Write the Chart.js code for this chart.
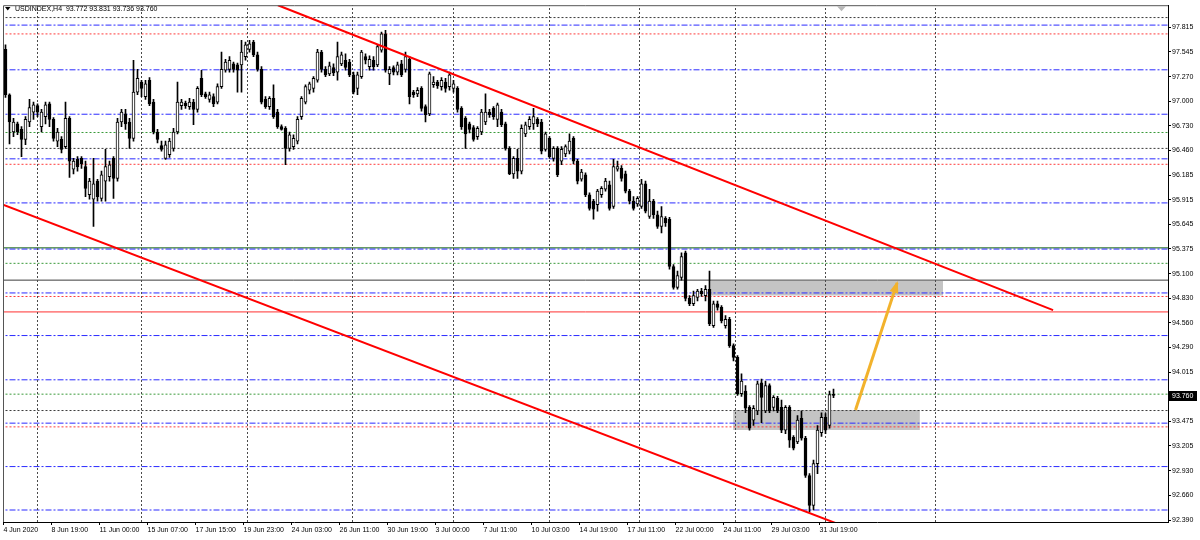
<!DOCTYPE html>
<html>
<head>
<meta charset="utf-8">
<script src="https://cdn.jsdelivr.net/npm/chart.js@4.4.1/dist/chart.umd.min.js"></script>
<style>
  html, body { margin: 0; padding: 0; background: #fff; }
  #wrap { width: 1200px; height: 540px; }
</style>
</head>
<body>
<div id="wrap"><canvas id="chart" width="1200" height="540"></canvas></div>
<script>
const symbolTitle = "USDINDEX,H4  93.772 93.831 93.736 93.760";
const lastPrice = 93.760;

// H4 candles, [open, high, low, close]
const ohlc = [
  [97.57,97.62,97.04,97.07],[97.07,97.08,96.53,96.77],[96.66,96.81,96.61,96.77],[96.75,96.77,96.63,96.66],
  [96.69,96.72,96.39,96.58],[96.58,96.83,96.52,96.80],[96.77,97.02,96.72,96.93],[96.88,96.99,96.80,96.96],
  [96.95,96.97,96.83,96.88],[96.72,96.91,96.66,96.88],[96.83,96.99,96.75,96.96],[96.97,96.99,96.72,96.80],
  [96.80,96.82,96.56,96.59],[96.56,96.70,96.50,96.66],[96.58,96.61,96.43,96.47],[96.50,96.99,96.48,96.81],
  [96.81,96.83,96.16,96.34],[96.25,96.37,96.20,96.34],[96.36,96.39,96.23,96.28],[96.37,96.39,96.26,96.31],
  [96.28,96.34,95.95,96.04],[95.97,96.15,95.92,96.12],[95.92,96.37,95.62,96.09],[96.12,96.14,95.90,95.95],
  [95.93,96.23,95.90,96.19],[96.12,96.47,95.90,96.28],[96.17,96.34,96.12,96.30],[96.37,96.39,95.93,96.15],
  [96.15,96.81,96.12,96.77],[96.77,96.91,96.72,96.88],[96.86,96.91,96.69,96.75],[96.77,96.81,96.48,96.59],
  [96.59,97.45,96.56,97.10],[97.10,97.35,97.07,97.25],[97.21,97.23,97.05,97.14],[97.05,97.23,97.02,97.19],
  [97.23,97.26,96.95,96.97],[96.99,97.02,96.64,96.66],[96.66,96.69,96.54,96.58],[96.51,96.56,96.45,96.47],
  [96.37,96.56,96.36,96.52],[96.41,96.59,96.38,96.56],[96.48,96.70,96.45,96.66],[96.66,97.21,96.64,96.99],
  [96.95,97.02,96.91,96.99],[96.98,97.00,96.92,96.95],[96.94,97.03,96.91,96.99],[96.99,97.02,96.74,96.91],
  [96.91,97.16,96.88,97.14],[97.25,97.34,97.05,97.07],[97.08,97.10,97.03,97.05],[97.02,97.10,96.99,97.07],
  [97.05,97.08,96.94,96.97],[96.99,97.19,96.97,97.16],[97.16,97.54,97.14,97.35],[97.34,97.46,97.32,97.43],
  [97.35,97.49,97.32,97.45],[97.41,97.43,97.32,97.35],[97.40,97.42,97.10,97.34],[97.40,97.67,97.10,97.54],
  [97.49,97.65,97.45,97.62],[97.57,97.67,97.54,97.63],[97.65,97.67,97.49,97.51],[97.51,97.54,97.33,97.35],
  [97.35,97.38,96.97,96.99],[97.02,97.05,96.92,96.94],[96.94,97.05,96.91,97.03],[97.03,97.18,96.81,96.83],
  [96.88,96.91,96.70,96.72],[96.72,96.74,96.68,96.69],[96.70,96.72,96.30,96.48],[96.48,96.66,96.45,96.63],
  [96.50,96.63,96.47,96.59],[96.56,96.83,96.53,96.80],
  [96.83,97.05,96.80,97.03],[96.99,97.18,96.97,97.16],[97.12,97.21,97.08,97.19],[97.14,97.27,97.10,97.25],
  [97.23,97.57,97.21,97.54],[97.54,97.56,97.32,97.35],[97.35,97.38,97.27,97.29],[97.30,97.43,97.28,97.39],
  [97.37,97.41,97.28,97.31],[97.32,97.65,97.23,97.49],[97.41,97.54,97.39,97.51],[97.45,97.52,97.34,97.37],
  [97.43,97.46,97.27,97.29],[97.29,97.32,97.08,97.10],[97.14,97.32,97.07,97.29],[97.27,97.56,97.25,97.54],
  [97.49,97.52,97.41,97.45],[97.38,97.50,97.34,97.46],[97.45,97.49,97.34,97.38],[97.40,97.62,97.38,97.60],
  [97.56,97.76,97.54,97.74],[97.74,97.78,97.32,97.34],[97.30,97.38,97.18,97.35],[97.37,97.39,97.29,97.32],
  [97.32,97.43,97.29,97.40],[97.41,97.45,97.27,97.29],[97.35,97.54,97.32,97.49],[97.46,97.49,96.97,97.05],
  [97.10,97.12,97.04,97.07],[97.08,97.15,97.05,97.12],[97.14,97.16,96.89,96.92],[96.94,96.96,96.77,96.85],
  [96.86,97.32,96.84,97.30],[97.18,97.27,97.15,97.21],[97.21,97.23,97.14,97.17],[97.16,97.26,97.12,97.23],
  [97.21,97.25,97.10,97.14],[97.16,97.32,97.12,97.29],
  [97.14,97.23,97.10,97.19],[97.14,97.16,96.88,96.91],[96.92,96.94,96.69,96.72],[96.81,96.83,96.48,96.64],
  [96.75,96.77,96.65,96.69],[96.71,96.73,96.56,96.58],[96.61,96.72,96.58,96.70],[96.66,96.91,96.63,96.88],
  [96.77,97.08,96.74,96.88],[96.88,96.91,96.82,96.85],[96.92,96.94,96.80,96.83],[96.80,96.98,96.72,96.96],
  [96.88,96.91,96.72,96.74],[96.75,96.77,96.46,96.48],[96.48,96.50,96.19,96.20],[96.20,96.39,96.15,96.37],
  [96.37,96.47,96.15,96.23],[96.23,96.74,96.20,96.70],[96.64,96.77,96.61,96.74],[96.72,96.83,96.69,96.80],
  [96.75,96.92,96.69,96.83],[96.80,96.82,96.72,96.75],[96.77,96.80,96.42,96.45],[96.47,96.66,96.45,96.64],
  [96.59,96.61,96.37,96.39],[96.37,96.50,96.34,96.48],[96.48,96.50,96.17,96.19],[96.34,96.50,96.30,96.47],
  [96.42,96.52,96.39,96.50],[96.45,96.64,96.42,96.56],[96.59,96.61,96.31,96.34],[96.34,96.36,96.09,96.12],
  [96.14,96.25,96.12,96.22],[96.19,96.21,95.95,95.97],[95.97,95.99,95.80,95.82],[95.90,95.92,95.70,95.81],
  [95.86,96.03,95.79,96.01],
  [95.97,96.06,95.94,96.04],[96.03,96.15,96.01,96.12],[96.08,96.12,95.80,95.82],[95.84,96.36,95.82,96.28],
  [96.25,96.34,96.23,96.28],[96.26,96.29,96.12,96.15],[96.20,96.23,95.99,96.01],[96.01,96.03,95.87,95.90],
  [95.90,95.95,95.80,95.82],[95.87,95.95,95.84,95.93],[95.84,96.14,95.82,96.09],[96.09,96.12,95.77,95.79],
  [95.73,96.03,95.71,95.90],[95.90,95.92,95.71,95.75],[95.75,95.79,95.60,95.62],[95.62,95.84,95.55,95.73],
  [95.71,95.73,95.62,95.66],[95.70,95.72,95.15,95.18],[95.18,95.20,94.93,94.95],[94.95,95.13,94.93,95.08],
  [95.06,95.33,95.03,95.29],[95.33,95.35,94.80,94.83],[94.83,94.86,94.75,94.77],[94.77,94.91,94.75,94.86],
  [94.84,94.93,94.80,94.91],[94.91,94.94,94.85,94.88],[94.86,94.97,94.80,94.93],[94.93,95.13,94.53,94.55],
  [94.53,94.80,94.51,94.77],[94.77,94.80,94.70,94.73],[94.73,94.75,94.56,94.58],[94.53,94.64,94.50,94.60],
  [94.60,94.62,94.29,94.31],
  [94.31,94.33,94.14,94.18],[94.18,94.20,93.76,93.78],[93.78,94.00,93.75,93.92],[93.81,93.87,93.57,93.62],
  [93.63,93.65,93.38,93.40],[93.49,93.65,93.43,93.62],[93.59,93.92,93.55,93.89],[93.90,93.94,93.46,93.74],
  [93.59,93.92,93.57,93.87],[93.87,93.89,93.57,93.59],[93.63,93.76,93.59,93.74],[93.73,93.75,93.57,93.59],
  [93.63,93.71,93.35,93.38],[93.38,93.65,93.34,93.63],[93.63,93.65,93.19,93.27],[93.30,93.32,93.16,93.18],
  [93.25,93.54,93.23,93.49],[93.51,93.59,93.27,93.29],[93.29,93.31,92.86,92.88],[92.88,92.90,92.48,92.55],
  [92.55,93.05,92.50,93.01],[93.01,93.43,92.90,93.38],[93.35,93.57,93.31,93.52],[93.52,93.56,93.34,93.38],
  [93.43,93.81,93.40,93.77],[93.772,93.831,93.736,93.760]
];

const priceTicks = [97.815, 97.545, 97.270, 97.000, 96.730, 96.460, 96.185, 95.915, 95.645, 95.375,
  95.100, 94.830, 94.560, 94.290, 94.015, 93.475, 93.205, 92.930, 92.660, 92.390];

const timeLabels = ["4 Jun 2020", "8 Jun 19:00", "11 Jun 00:00", "15 Jun 07:00", "17 Jun 15:00",
  "19 Jun 23:00", "24 Jun 03:00", "26 Jun 11:00", "30 Jun 19:00", "3 Jul 00:00", "7 Jul 11:00",
  "10 Jul 03:00", "14 Jul 19:00", "17 Jul 11:00", "22 Jul 00:00", "24 Jul 11:00", "29 Jul 03:00",
  "31 Jul 19:00"];
const barsPerLabel = 12;

// horizontal levels by kind
const blueLevels = [97.837, 97.345, 96.856, 96.365, 95.880, 95.372, 94.889, 94.420, 93.933, 93.456, 92.978, 92.500];
const redDotLevels = [97.740, 96.305, 94.850, 93.415];
const greenDotLevels = [96.655, 95.215, 93.775];
const blackDotLevels = [97.920, 96.480, 93.595];
const darkGreenLevels = [95.385];
const graySolidLevels = [95.030];
const redSolidLevels = [94.680];

// weekly separators, in bars
const separatorBars = [8, 34, 60.5, 86.75, 112, 136, 158.5, 182.5, 205, 232.5];

// channel
const upperChannel = [{ x: 68.1, y: 98.056 }, { x: 261.9, y: 94.70 }];
const lowerChannel = [{ x: -0.625, y: 95.861 }, { x: 216.1, y: 92.212 }];

const zones = [
  { from: 176.2, to: 234.4, top: 95.02, bottom: 94.86 },
  { from: 181.9, to: 228.6, top: 93.60, bottom: 93.38 }
];
const arrowPoints = [{ x: 212.5, y: 93.60 }, { x: 222.9, y: 95.00 }];

const yMin = 92.368, yMax = 98.056;
const xMin = -0.625, xMax = 290.625;

const styles = {
  blue: { color: "#2b2bff", dash: [6, 2, 2, 2] },
  redDot: { color: "#ff3c3c", dash: [2, 2] },
  greenDot: { color: "#3a9a3a", dash: [2, 2] },
  blackDot: { color: "#3a3a3a", dash: [2, 2] },
  darkGreen: { color: "#0b5e0b", dash: [] },
  gray: { color: "#3c3c3c", dash: [] },
  red: { color: "#ff3030", dash: [] }
};
const arrowColor = "#f2b22c";

Chart.defaults.font.family = '"Liberation Sans", Arial, sans-serif';
Chart.defaults.color = "#000";

function hline(price, st) {
  return {
    type: "line",
    data: [{ x: -2, y: price }, { x: 293, y: price }],
    borderColor: st.color,
    borderWidth: 1,
    borderDash: st.dash,
    pointRadius: 0,
    fill: false,
    order: 10
  };
}

const datasets = [];

zones.forEach(z => {
  datasets.push({
    type: "line",
    data: [{ x: z.from, y: z.top }, { x: z.to, y: z.top }],
    borderWidth: 0,
    borderColor: "rgba(0,0,0,0)",
    backgroundColor: "#c4c4c4",
    pointRadius: 0,
    fill: { value: z.bottom },
    order: 20
  });
});

blueLevels.forEach(p => datasets.push(hline(p, styles.blue)));
redDotLevels.forEach(p => datasets.push(hline(p, styles.redDot)));
greenDotLevels.forEach(p => datasets.push(hline(p, styles.greenDot)));
blackDotLevels.forEach(p => datasets.push(hline(p, styles.blackDot)));
darkGreenLevels.forEach(p => datasets.push(hline(p, styles.darkGreen)));
graySolidLevels.forEach(p => datasets.push(hline(p, styles.gray)));
redSolidLevels.forEach(p => datasets.push(hline(p, styles.red)));

separatorBars.forEach(b => {
  datasets.push({
    type: "line",
    data: [{ x: b, y: yMin }, { x: b, y: yMax }],
    borderColor: "#4a4a4a",
    borderWidth: 1,
    borderDash: [2, 2],
    pointRadius: 0,
    fill: false,
    order: 9
  });
});

// wicks
datasets.push({
  type: "bar",
  data: ohlc.map((r, i) => ({ x: i, y: [r[2], r[1]] })),
  backgroundColor: "#000",
  barThickness: 1,
  grouped: false,
  order: 4
});
// bodies
datasets.push({
  type: "bar",
  data: ohlc.map((r, i) => ({ x: i, y: [Math.min(r[0], r[3]), Math.max(r[0], r[3])] })),
  backgroundColor: ohlc.map(r => r[3] >= r[0] ? "#fff" : "#000"),
  borderColor: "#000",
  borderWidth: 1,
  borderSkipped: false,
  barThickness: 3,
  minBarLength: 1,
  grouped: false,
  order: 3
});

[upperChannel, lowerChannel].forEach(line => {
  datasets.push({
    type: "line",
    data: line,
    borderColor: "#ff0000",
    borderWidth: 2,
    pointRadius: 0,
    fill: false,
    order: 2
  });
});

datasets.push({
  type: "line",
  data: arrowPoints,
  borderColor: arrowColor,
  borderWidth: 3,
  pointRadius: 0,
  fill: false,
  order: 1
});

const overlay = {
  id: "overlay",
  afterDraw(chart) {
    const { ctx, chartArea: a, scales: { x, y } } = chart;
    ctx.save();

    // frame
    ctx.strokeStyle = "#555";
    ctx.lineWidth = 1;
    ctx.beginPath();
    ctx.moveTo(a.left + 0.5, a.bottom);
    ctx.lineTo(a.left + 0.5, a.top + 0.5);
    ctx.lineTo(a.right, a.top + 0.5);
    ctx.stroke();

    // arrow head
    const x0 = x.getPixelForValue(arrowPoints[0].x), y0 = y.getPixelForValue(arrowPoints[0].y);
    const x1 = x.getPixelForValue(arrowPoints[1].x), y1 = y.getPixelForValue(arrowPoints[1].y);
    const ang = Math.atan2(y1 - y0, x1 - x0);
    const len = 10, half = 4.5;
    const bx = x1 - Math.cos(ang) * len, by = y1 - Math.sin(ang) * len;
    ctx.fillStyle = arrowColor;
    ctx.beginPath();
    ctx.moveTo(x1 + Math.cos(ang) * 2, y1 + Math.sin(ang) * 2);
    ctx.lineTo(bx - Math.sin(ang) * half, by + Math.cos(ang) * half);
    ctx.lineTo(bx + Math.sin(ang) * half, by - Math.cos(ang) * half);
    ctx.closePath();
    ctx.fill();

    // shift marker
    ctx.fillStyle = "#b8b8b8";
    ctx.beginPath();
    ctx.moveTo(837, a.top + 1);
    ctx.lineTo(846, a.top + 1);
    ctx.lineTo(841.5, a.top + 6);
    ctx.closePath();
    ctx.fill();

    // header
    ctx.fillStyle = "#000";
    ctx.beginPath();
    ctx.moveTo(5, 7);
    ctx.lineTo(10.5, 7);
    ctx.lineTo(7.75, 10.5);
    ctx.closePath();
    ctx.fill();
    ctx.font = '7px "Liberation Sans", Arial, sans-serif';
    ctx.textBaseline = "middle";
    ctx.textAlign = "left";
    ctx.fillText(symbolTitle, 15, 9);

    // last price tag
    const py = y.getPixelForValue(lastPrice);
    ctx.fillStyle = "#000";
    ctx.fillRect(a.right + 1, Math.round(py) - 5, 28, 10);
    ctx.fillStyle = "#fff";
    ctx.fillText(lastPrice.toFixed(3), a.right + 4, py + 0.5);

    ctx.restore();
  }
};

new Chart(document.getElementById("chart"), {
  type: "bar",
  data: { datasets },
  options: {
    responsive: false,
    animation: false,
    layout: { padding: { left: 3, top: 3, right: 0, bottom: 0 } },
    plugins: { legend: { display: false }, tooltip: { enabled: false } },
    scales: {
      x: {
        type: "linear",
        min: xMin,
        max: xMax,
        offset: false,
        afterFit: s => { s.height = 18; },
        afterBuildTicks: s => { s.ticks = timeLabels.map((_, k) => ({ value: -0.5 + barsPerLabel * k })); },
        ticks: {
          callback: (v, i) => timeLabels[i],
          align: "start",
          autoSkip: false,
          maxRotation: 0,
          padding: 1,
          font: { size: 7 },
          color: "#000"
        },
        grid: { drawOnChartArea: false, drawTicks: true, tickLength: 3, color: "#000", offset: false },
        border: { display: true, color: "#000" }
      },
      y: {
        position: "right",
        min: yMin,
        max: yMax,
        afterFit: s => { s.width = 32; },
        afterBuildTicks: s => { s.ticks = priceTicks.map(v => ({ value: v })); },
        ticks: {
          callback: v => Number(v).toFixed(3),
          autoSkip: false,
          padding: 1,
          font: { size: 7 },
          color: "#000"
        },
        grid: { drawOnChartArea: false, drawTicks: true, tickLength: 3, color: "#000" },
        border: { display: true, color: "#000" }
      }
    }
  },
  plugins: [overlay]
});
</script>
</body>
</html>
